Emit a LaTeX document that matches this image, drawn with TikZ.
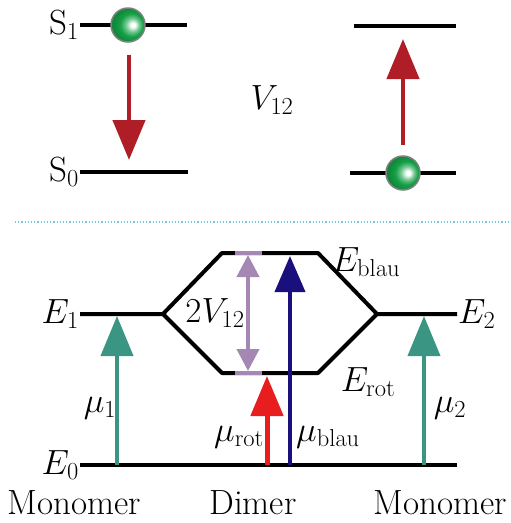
\RequirePackage{fix-cm}
\documentclass[tikz,border=0pt]{standalone}
\usetikzlibrary{arrows.meta}

\definecolor{emitred}{RGB}{175,30,38}
\definecolor{monogreen}{RGB}{58,150,130}
\definecolor{blauarrow}{RGB}{25,15,125}
\definecolor{rotarrow}{RGB}{232,30,30}
\definecolor{splitviolet}{RGB}{165,135,180}
\definecolor{sepblue}{RGB}{120,195,235}
\definecolor{ballgreen}{RGB}{20,160,70}

\pgfdeclareradialshading{electronshade}{\pgfpoint{8bp}{0bp}}{%
  color(0bp)=(white); color(3bp)=(white); color(10bp)=(white!40!ballgreen);
  color(17bp)=(ballgreen); color(25bp)=(ballgreen!85!black); color(50bp)=(ballgreen!85!black)}

\tikzset{
  level/.style={line width=4pt},
  bigarrow/.style={line width=4.5pt, -{Triangle[width=32pt,length=40pt]}},
  electron/.style={draw=gray, line width=1.5pt, shading=electronshade},
  lbl/.style={inner sep=1pt}
}

\begin{document}
\begin{tikzpicture}[x=1pt,y=-1pt,font=\fontsize{35}{40}\selectfont]
\useasboundingbox (0,0) rectangle (511,523);

% Emission / absorption picture
\coordinate (s1l) at (80,25);   \coordinate (s1r) at (187,25);
\coordinate (s0l) at (80,172);  \coordinate (s0r) at (188,172);
\coordinate (t1l) at (354,26);  \coordinate (t1r) at (456,26);
\coordinate (t0l) at (350,173); \coordinate (t0r) at (456,173);
\draw[level] (s1l) -- (s1r);
\draw[level] (s0l) -- (s0r);
\draw[level] (t1l) -- (t1r);
\draw[level] (t0l) -- (t0r);
\node[lbl, left] (S1) at (s1l) {S$_1$};
\node[lbl, left] (S0) at (s0l) {S$_0$};
\shadedraw[electron] (128,25) circle (17);
\shadedraw[electron] (403,173) circle (17);
\coordinate (downtop) at (129,55);  \coordinate (downbot) at (129,160);
\coordinate (upbot) at (403,145);   \coordinate (uptop) at (403,39);
\draw[bigarrow, emitred] (downtop) -- (downbot);
\draw[bigarrow, emitred] (upbot) -- (uptop);
\node (V12) at (272,100) {$V_{12}$};

% separator
\draw[sepblue, line width=1.2pt, dotted] (15,222) -- (511,222);

% Monomer and dimer levels
\coordinate (e1l) at (80,314);  \coordinate (e1r) at (163,314);
\coordinate (e2l) at (377,314); \coordinate (e2r) at (457,314);
\coordinate (bl) at (222,253);  \coordinate (br) at (318,253);
\coordinate (rl) at (222,373);  \coordinate (rr) at (318,373);
\coordinate (e0l) at (80,465);  \coordinate (e0r) at (457,465);
\draw[level, line join=round] (e1l) -- (e1r) -- (bl) -- (br) -- (e2l) -- (e2r);
\draw[level, line join=round] (e1r) -- (rl) -- (rr) -- (e2l);
\draw[level] (e0l) -- (e0r);
\draw[splitviolet, line width=4pt] (235,253) -- (262,253);
\draw[splitviolet, line width=4pt] (235,373) -- (262,373);
\coordinate (vtop) at (248,255); \coordinate (vbot) at (248,371);
\draw[splitviolet, line width=4pt, {Triangle[width=22pt,length=22pt]}-{Triangle[width=22pt,length=22pt]}] (vtop) -- (vbot);

% transitions
\coordinate (m1b) at (117,465); \coordinate (m1t) at (117,316);
\coordinate (m2b) at (424,465); \coordinate (m2t) at (424,316);
\coordinate (rotb) at (267,465); \coordinate (rott) at (267,376);
\coordinate (blaub) at (290,465); \coordinate (blaut) at (290,256);
\draw[bigarrow, monogreen, line width=4pt] (m1b) -- (m1t);
\draw[bigarrow, monogreen, line width=4pt] (m2b) -- (m2t);
\draw[bigarrow, rotarrow, line width=5pt] (rotb) -- (rott);
\draw[blauarrow, line width=4pt, -{Triangle[width=30pt,length=36pt]}] (blaub) -- (blaut);

% labels
\node[lbl, left] (E1) at (e1l) {$E_1$};
\node[lbl, right] (E2) at (e2r) {$E_2$};
\node[lbl, left] (E0) at (e0l) {$E_0$};
\node (Eblau) at (366,262) {$E_{\mathrm{blau}}$};
\node (Erot) at (368,382) {$E_{\mathrm{rot}}$};
\node (split) at (215,313) {$2V_{12}$};
\node (mu1) at (100,408) {$\mu_1$};
\node (mu2) at (450,408) {$\mu_2$};
\node (murot) at (239,437) {$\mu_{\mathrm{rot}}$};
\node (mublau) at (328,437) {$\mu_{\mathrm{blau}}$};
\node (mono1) at (74,503) {Monomer};
\node (dimer) at (253,503) {Dimer};
\node (mono2) at (440,503) {Monomer};
\end{tikzpicture}
\end{document}
